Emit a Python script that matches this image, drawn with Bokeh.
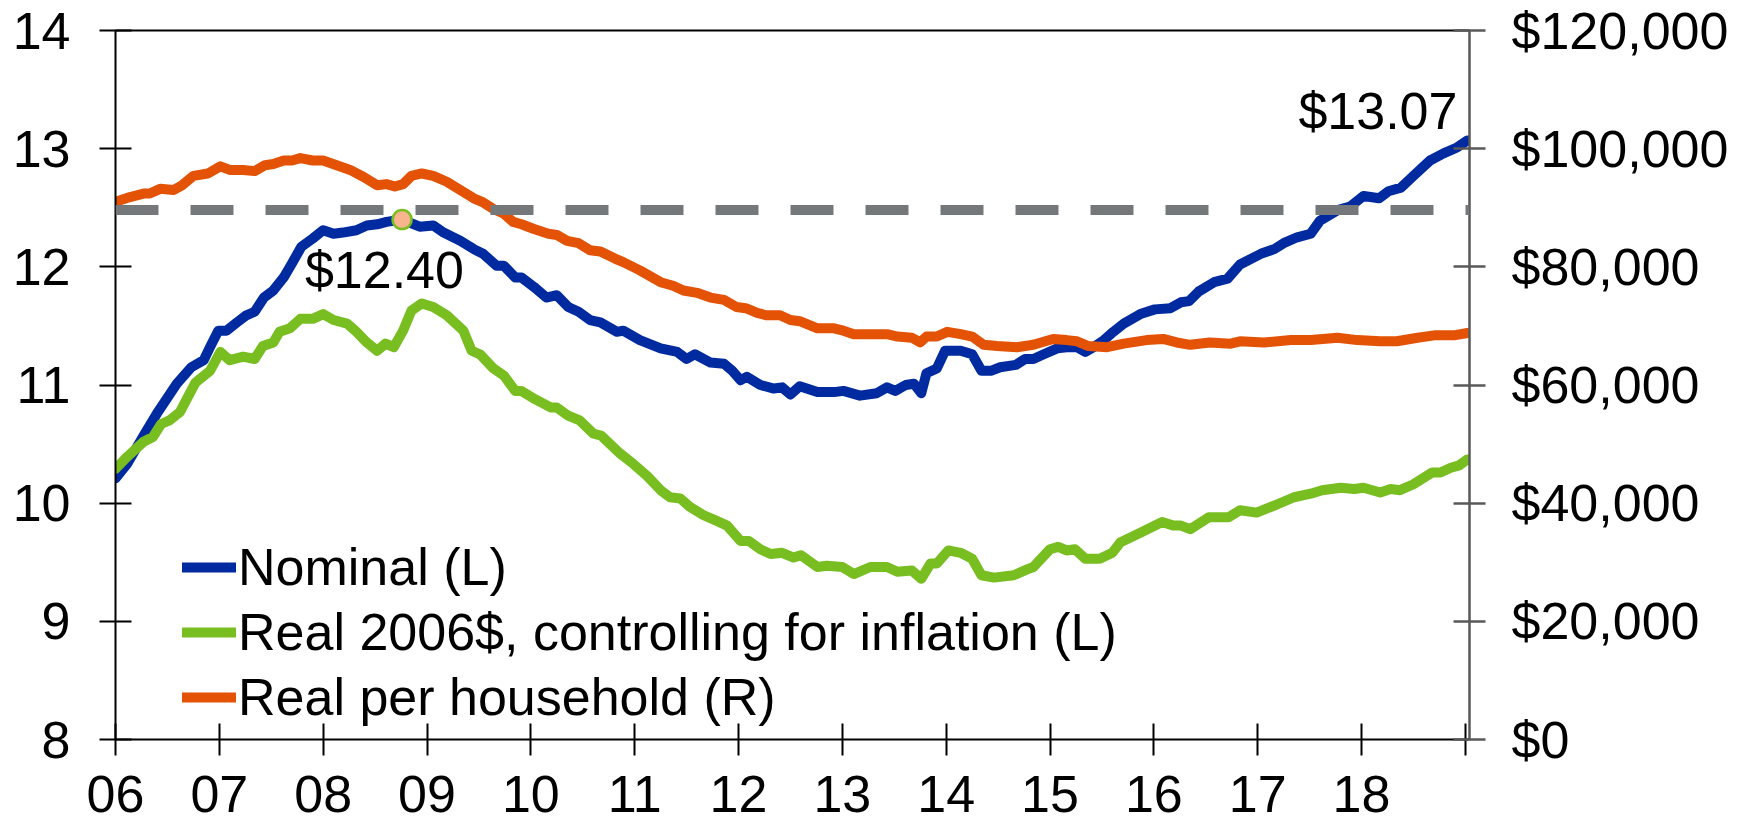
from bokeh.plotting import figure
from bokeh.models import (Range1d, LinearAxis, FixedTicker, NumeralTickFormatter,
                          Span, Label, Legend, LegendItem)
from bokeh.embed import file_html
from bokeh.resources import INLINE

FONT = "Liberation Sans"
FS = "52px"
BLUE = "#002AA0"
GREEN = "#78BE21"
ORANGE = "#E35205"
GRAY = "#75787B"

# ---------------- data ----------------
year_ticks = list(range(2006, 2019))
year_labels = ["06", "07", "08", "09", "10", "11", "12", "13", "14", "15", "16", "17", "18"]
end_tick = [2019]
left_ticks = [8, 9, 10, 11, 12, 13, 14]
right_ticks = [0, 20000, 40000, 60000, 80000, 100000, 120000]

nominal_t = [2006.00, 2006.11, 2006.27, 2006.40, 2006.46, 2006.59, 2006.73, 2006.85, 2006.91, 2006.99,
             2007.07, 2007.17, 2007.26, 2007.34, 2007.43, 2007.52, 2007.62, 2007.70, 2007.79, 2007.90,
             2008.00, 2008.10, 2008.19, 2008.32, 2008.42, 2008.52, 2008.61, 2008.76, 2008.93, 2009.06,
             2009.16, 2009.32, 2009.45, 2009.54, 2009.67, 2009.74, 2009.85, 2009.91, 2010.03, 2010.15,
             2010.25, 2010.36, 2010.46, 2010.57, 2010.67, 2010.83, 2010.89, 2011.05, 2011.25, 2011.41,
             2011.50, 2011.58, 2011.73, 2011.86, 2011.94, 2012.02, 2012.08, 2012.21, 2012.34, 2012.42,
             2012.50, 2012.59, 2012.76, 2012.92, 2013.01, 2013.17, 2013.33, 2013.43, 2013.51, 2013.61,
             2013.69, 2013.76, 2013.81, 2013.91, 2013.99, 2014.14, 2014.25, 2014.34, 2014.43, 2014.52,
             2014.67, 2014.76, 2014.84, 2014.94, 2015.07, 2015.16, 2015.26, 2015.34, 2015.42, 2015.52,
             2015.61, 2015.71, 2015.87, 2016.01, 2016.16, 2016.26, 2016.34, 2016.43, 2016.58, 2016.71,
             2016.83, 2017.03, 2017.16, 2017.25, 2017.38, 2017.51, 2017.60, 2017.77, 2017.89, 2018.02,
             2018.17, 2018.26, 2018.38, 2018.50, 2018.66, 2018.79, 2018.92, 2019.02]
nominal_v = [10.21, 10.33, 10.57, 10.76, 10.84, 11.01, 11.15, 11.21, 11.32, 11.46,
             11.46, 11.53, 11.59, 11.62, 11.74, 11.80, 11.91, 12.03, 12.17, 12.24,
             12.31, 12.28, 12.29, 12.31, 12.35, 12.36, 12.38, 12.40, 12.34, 12.35,
             12.29, 12.22, 12.15, 12.11, 12.01, 12.01, 11.91, 11.91, 11.83, 11.74,
             11.76, 11.66, 11.62, 11.55, 11.53, 11.45, 11.46, 11.38, 11.31, 11.28,
             11.22, 11.26, 11.19, 11.18, 11.12, 11.04, 11.07, 11.00, 10.97, 10.98,
             10.92, 10.99, 10.94, 10.94, 10.95, 10.91, 10.93, 10.98, 10.95, 11.00,
             11.01, 10.93, 11.10, 11.14, 11.29, 11.29, 11.26, 11.12, 11.12, 11.15,
             11.17, 11.22, 11.22, 11.26, 11.31, 11.32, 11.32, 11.28, 11.32, 11.38,
             11.45, 11.52, 11.60, 11.64, 11.65, 11.70, 11.71, 11.79, 11.87, 11.90,
             12.02, 12.11, 12.15, 12.20, 12.25, 12.28, 12.39, 12.48, 12.51, 12.60,
             12.58, 12.64, 12.67, 12.77, 12.90, 12.96, 13.01, 13.07]

real_t = [2006.00, 2006.11, 2006.27, 2006.36, 2006.44, 2006.52, 2006.62, 2006.77, 2006.91, 2007.01,
          2007.10, 2007.23, 2007.34, 2007.42, 2007.52, 2007.58, 2007.68, 2007.78, 2007.90, 2008.00,
          2008.10, 2008.23, 2008.32, 2008.42, 2008.52, 2008.60, 2008.68, 2008.77, 2008.85, 2008.95,
          2009.06, 2009.19, 2009.35, 2009.43, 2009.51, 2009.64, 2009.74, 2009.85, 2009.91, 2010.04,
          2010.19, 2010.25, 2010.36, 2010.47, 2010.60, 2010.68, 2010.86, 2010.99, 2011.12, 2011.25,
          2011.34, 2011.44, 2011.53, 2011.66, 2011.79, 2011.89, 2012.02, 2012.10, 2012.21, 2012.31,
          2012.42, 2012.53, 2012.60, 2012.76, 2012.85, 2013.00, 2013.11, 2013.27, 2013.43, 2013.53,
          2013.67, 2013.76, 2013.85, 2013.91, 2014.02, 2014.14, 2014.25, 2014.34, 2014.46, 2014.65,
          2014.78, 2014.84, 2015.00, 2015.08, 2015.16, 2015.24, 2015.34, 2015.48, 2015.60, 2015.68,
          2015.87, 2016.08, 2016.19, 2016.26, 2016.35, 2016.53, 2016.72, 2016.83, 2016.99, 2017.16,
          2017.35, 2017.51, 2017.62, 2017.80, 2017.93, 2018.02, 2018.18, 2018.28, 2018.37, 2018.50,
          2018.68, 2018.76, 2018.86, 2018.94, 2019.02]
real_v = [10.29, 10.39, 10.52, 10.56, 10.67, 10.70, 10.77, 11.02, 11.12, 11.28,
          11.21, 11.24, 11.22, 11.33, 11.36, 11.45, 11.48, 11.56, 11.56, 11.60,
          11.55, 11.52, 11.45, 11.36, 11.29, 11.35, 11.32, 11.46, 11.63, 11.69,
          11.66, 11.59, 11.46, 11.29, 11.26, 11.14, 11.08, 10.95, 10.95, 10.88,
          10.81, 10.81, 10.74, 10.70, 10.59, 10.57, 10.42, 10.33, 10.23, 10.11,
          10.05, 10.04, 9.97, 9.90, 9.85, 9.81, 9.68, 9.68, 9.61, 9.57,
          9.58, 9.54, 9.56, 9.46, 9.47, 9.46, 9.40, 9.46, 9.46, 9.42,
          9.43, 9.36, 9.49, 9.49, 9.60, 9.58, 9.53, 9.39, 9.37, 9.39,
          9.44, 9.46, 9.61, 9.63, 9.60, 9.61, 9.53, 9.53, 9.58, 9.67,
          9.75, 9.84, 9.81, 9.81, 9.78, 9.88, 9.88, 9.94, 9.92, 9.98,
          10.05, 10.08, 10.11, 10.13, 10.12, 10.13, 10.09, 10.12, 10.11, 10.16,
          10.26, 10.26, 10.30, 10.32, 10.37]

household_t = [2006.00, 2006.14, 2006.27, 2006.33, 2006.43, 2006.56, 2006.64, 2006.75, 2006.89, 2007.01,
               2007.10, 2007.23, 2007.34, 2007.44, 2007.52, 2007.62, 2007.70, 2007.78, 2007.90, 2008.00,
               2008.13, 2008.26, 2008.39, 2008.52, 2008.61, 2008.69, 2008.77, 2008.85, 2008.95, 2009.06,
               2009.19, 2009.32, 2009.45, 2009.53, 2009.64, 2009.74, 2009.83, 2009.91, 2010.03, 2010.17,
               2010.25, 2010.35, 2010.46, 2010.57, 2010.67, 2010.81, 2010.89, 2011.05, 2011.25, 2011.37,
               2011.47, 2011.60, 2011.73, 2011.86, 2011.98, 2012.07, 2012.18, 2012.27, 2012.40, 2012.50,
               2012.59, 2012.76, 2012.92, 2013.01, 2013.11, 2013.27, 2013.43, 2013.53, 2013.67, 2013.75,
               2013.81, 2013.91, 2014.01, 2014.14, 2014.25, 2014.36, 2014.49, 2014.68, 2014.84, 2015.03,
               2015.16, 2015.26, 2015.37, 2015.55, 2015.71, 2015.93, 2016.09, 2016.22, 2016.35, 2016.54,
               2016.74, 2016.83, 2017.06, 2017.32, 2017.51, 2017.77, 2017.96, 2018.18, 2018.34, 2018.54,
               2018.70, 2018.89, 2019.02]
household_usd = [91000, 91800, 92400, 92400, 93200, 93000, 93800, 95400, 95800, 97000,
                 96400, 96400, 96200, 97200, 97400, 98000, 98000, 98400, 98000, 98000,
                 97200, 96400, 95200, 93800, 94000, 93600, 94000, 95400, 95800, 95400,
                 94400, 93000, 91600, 91000, 89800, 89000, 87600, 87200, 86400, 85600,
                 85400, 84400, 84000, 82800, 82600, 81400, 80800, 79400, 77400, 76800,
                 76000, 75600, 74800, 74400, 73200, 73000, 72200, 71800, 71800, 71000,
                 70800, 69600, 69600, 69200, 68600, 68600, 68600, 68200, 68000, 67200,
                 68200, 68200, 69000, 68600, 68200, 66800, 66600, 66400, 66800, 67800,
                 67600, 67400, 66600, 66400, 67000, 67600, 67800, 67200, 66800, 67200,
                 67000, 67400, 67200, 67600, 67600, 68000, 67600, 67400, 67400, 68000,
                 68400, 68400, 68800]

peak_t, peak_v = 2008.76, 12.40
latest_t, latest_v = 2019.02, 13.07
reference_level = 12.48

# annotation placement (layout only)
PEAK_LABEL_X, PEAK_LABEL_Y = 2008.59, 11.972
LATEST_LABEL_X, LATEST_LABEL_Y = 2018.924, 13.32

# ---------------- figure ----------------
p = figure(frame_width=1354, frame_height=709,
           x_range=Range1d(2006, 2019.04), y_range=Range1d(8, 14),
           min_border_left=115, min_border_right=285, min_border_top=30, min_border_bottom=84,
           output_backend="svg", toolbar_location=None)
p.extra_y_ranges = {"hh": Range1d(0, 120000)}
p.xgrid.visible = False
p.ygrid.visible = False
p.outline_line_color = None
p.background_fill_color = "white"
p.border_fill_color = "white"

xa = p.xaxis[0]
xa.ticker = FixedTicker(ticks=year_ticks, minor_ticks=end_tick)
xa.major_label_overrides = {yr: lab for yr, lab in zip(year_ticks, year_labels)}
xa.major_tick_in = 16
xa.major_tick_out = 16
xa.minor_tick_in = 16
xa.minor_tick_out = 16
xa.minor_tick_line_color = "black"
xa.minor_tick_line_width = 2
xa.major_label_text_font = FONT
xa.major_label_text_font_size = FS
xa.major_label_text_color = "black"
xa.major_label_standoff = 20
xa.axis_line_color = "black"
xa.axis_line_width = 2
xa.major_tick_line_color = "black"
xa.major_tick_line_width = 2

ya = p.yaxis[0]
ya.ticker = FixedTicker(ticks=left_ticks)
ya.major_tick_in = 16
ya.major_tick_out = 16
ya.minor_tick_line_color = None
ya.major_label_text_font = FONT
ya.major_label_text_font_size = FS
ya.major_label_text_color = "black"
ya.major_label_standoff = 29
ya.axis_line_color = "black"
ya.axis_line_width = 2
ya.major_tick_line_color = "black"
ya.major_tick_line_width = 2

ra = LinearAxis(y_range_name="hh", ticker=FixedTicker(ticks=right_ticks),
                formatter=NumeralTickFormatter(format="$0,0"))
ra.major_tick_in = 16
ra.major_tick_out = 16
ra.minor_tick_line_color = None
ra.major_label_text_font = FONT
ra.major_label_text_font_size = FS
ra.major_label_text_color = "black"
ra.major_label_standoff = 26
ra.axis_line_color = "#595959"
ra.axis_line_width = 2.5
ra.major_tick_line_color = "#595959"
ra.major_tick_line_width = 2.5
p.add_layout(ra, "right")

ta = LinearAxis(ticker=FixedTicker(ticks=[]))
ta.major_tick_line_color = None
ta.minor_tick_line_color = None
ta.axis_line_color = "black"
ta.axis_line_width = 2
ta.major_label_standoff = 0
p.add_layout(ta, "above")

r_nom = p.line(nominal_t, nominal_v, line_color=BLUE, line_width=10,
               line_join="round", line_cap="round")
r_real = p.line(real_t, real_v, line_color=GREEN, line_width=10,
                line_join="round", line_cap="round")
r_hh = p.line(household_t, household_usd, y_range_name="hh", line_color=ORANGE,
              line_width=10, line_join="round", line_cap="round")

p.add_layout(Span(location=reference_level, dimension="width", line_color=GRAY,
                  line_width=10, line_dash="43 32"))

p.scatter([peak_t], [peak_v], size=19, fill_color="#F8B48C", line_color=GREEN, line_width=2.5)

p.add_layout(Label(x=PEAK_LABEL_X, y=PEAK_LABEL_Y, text=f"${peak_v:.2f}", text_align="center",
                   text_baseline="alphabetic", text_font=FONT, text_font_size=FS,
                   text_color="black"))
p.add_layout(Label(x=LATEST_LABEL_X, y=LATEST_LABEL_Y, text=f"${latest_v:.2f}", text_align="right",
                   text_baseline="alphabetic", text_font=FONT, text_font_size=FS,
                   text_color="black"))

legend = Legend(items=[LegendItem(label="Nominal (L)", renderers=[r_nom]),
                       LegendItem(label="Real 2006$, controlling for inflation (L)", renderers=[r_real]),
                       LegendItem(label="Real per household (R)", renderers=[r_hh])],
                location=(67, 12), label_text_font=FONT, label_text_font_size=FS,
                label_text_color="black",
                glyph_width=54, glyph_height=40, label_standoff=2, spacing=5,
                padding=0, margin=0, background_fill_alpha=0, border_line_color=None)
p.add_layout(legend)

open("out.html", "w").write(file_html(p, INLINE))
